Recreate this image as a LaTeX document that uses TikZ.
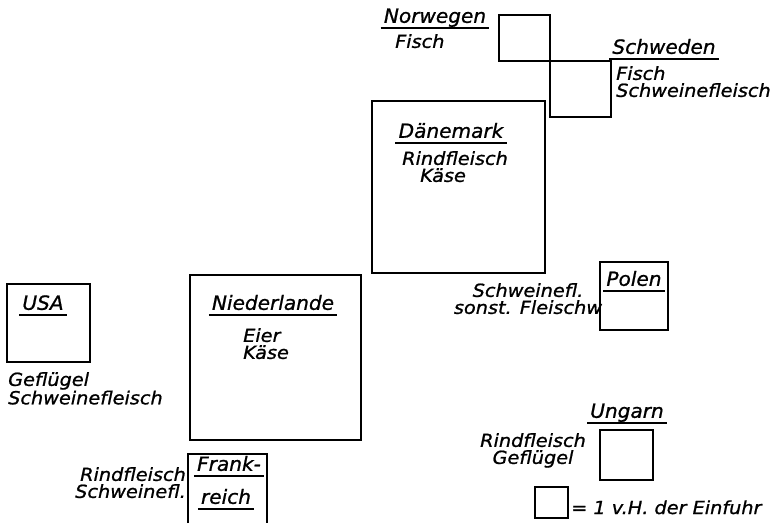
\documentclass[tikz,border=0pt]{standalone}
\usepackage{fontspec}
\usepackage{tikz}
\newfontfamily\schrift{DejaVu Sans}[FakeStretch=1.07, FakeBold=1]
\newfontfamily\schriftland{DejaVu Sans}[FakeStretch=1.03, FakeBold=1]
\newcommand{\landfont}{\schriftland\itshape\fontsize{19.5}{21}\selectfont}
\newcommand{\warefont}{\schrift\itshape\fontsize{18}{17}\selectfont}

\tikzset{
    kasten/.style={line width=1.8pt, line join=miter},
    land/.style={font=\landfont, inner xsep=3pt, inner ysep=0pt,
        text height=14pt, text depth=5pt, anchor=south,
        append after command={(\tikzlastnode.south west) edge[line width=1.4pt] (\tikzlastnode.south east)}},
    ware/.style={font=\warefont, inner sep=0pt},
}

\begin{document}
\begin{tikzpicture}[x=1pt, y=-1pt]
            \useasboundingbox (0,0) rectangle (778,523);

            % Draw the squares (area = share of imports)
            \draw[kasten] (499,15) rectangle (550,61);
            \draw[kasten] (550,61) rectangle (611,117);
            \draw[kasten] (372,101) rectangle (545,273);
            \draw[kasten] (190,275) rectangle (361,440);
            \draw[kasten] (7,284) rectangle (90,362);
            \draw[kasten] (600,262) rectangle (668,330);
            \draw[kasten] (600,430) rectangle (653,480);
            \draw[kasten] (188,523) -- (188,454) -- (267,454) -- (267,523);
            \draw[kasten] (535,487) rectangle (568,518);

            % Label the countries
            \node[land] (norwegen) at (435,28) {Norwegen};
            \node[land] (schweden) at (664,59) {Schweden};
            \node[land] (daenemark) at (451,143) {Dänemark};
            \node[land] (niederlande) at (273,315) {Niederlande};
            \node[land] (usa) at (43,315) {USA};
            \node[land] (polen) at (634,291) {Polen};
            \node[land] (ungarn) at (627,423) {Ungarn};
            \node[land] (frank) at (229,476) {Frank-};
            \node[land] (reich) at (226,509) {reich};

            % Goods
            \node[ware, anchor=north west] (w-nor) at (395,34) {Fisch};
            \node[ware, anchor=north west, align=left] (w-swe) at (616,66) {Fisch\\Schweinefleisch};
            \node[ware, anchor=north west, align=left] (w-dk) at (402,151) {Rindfleisch\\\hspace*{18pt}Käse};
            \node[ware, anchor=north west, align=left] (w-nl) at (243,328) {Eier\\Käse};
            \node[ware, anchor=north west, align=left] (w-usa) at (8,372) {Geflügel\\Schweinefleisch};
            \node[ware, anchor=north, align=center] (w-pl) at (528,283) {Schweinefl.\\sonst. Fleischw};
            \node[ware, anchor=north east, align=right] (w-fr) at (186,467) {Rindfleisch\\Schweinefl.};
            \node[ware, anchor=north, align=center] (w-hu) at (533,433) {Rindfleisch\\Geflügel};

            % Legend
            \node[ware, anchor=base west] (legende) at (571,514) {= 1 v.H. der Einfuhr};
\end{tikzpicture}
\end{document}
